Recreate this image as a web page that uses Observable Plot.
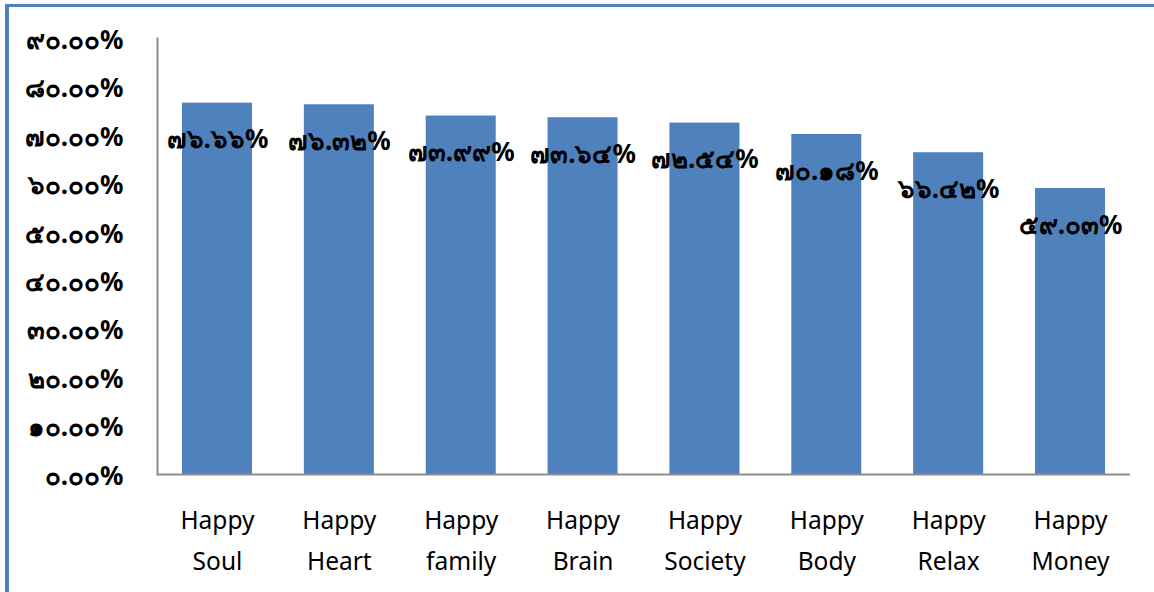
<!DOCTYPE html>
<html>
<head>
<meta charset="utf-8">
<script src="https://cdn.jsdelivr.net/npm/d3@7"></script>
<script src="https://cdn.jsdelivr.net/npm/@observablehq/plot@0.6"></script>
<style>
  html, body { margin: 0; padding: 0; background: #fff; overflow: hidden; }
  #frame {
    position: absolute; left: 5px; top: 4px; width: 1200px; height: 700px;
    border-left: 4px solid #4F81BD; border-top: 3px solid #4F81BD;
    box-sizing: border-box; pointer-events: none;
  }
  #chart { position: absolute; left: 0; top: 0; }
</style>
</head>
<body>
<div id="chart"></div>
<div id="frame"></div>
<script>
// Share of respondents by "Happy" dimension
const categories = ["Happy Soul", "Happy Heart", "Happy family", "Happy Brain", "Happy Society", "Happy Body", "Happy Relax", "Happy Money"];
const values = [76.66, 76.32, 73.99, 73.64, 72.54, 70.18, 66.42, 59.03];
const yTicks = [0, 10, 20, 30, 40, 50, 60, 70, 80, 90];

const data = categories.map((c, i) => ({category: c, value: values[i]}));

// Thai numerals for the percentage labels
const thaiDigits = "๐๑๒๓๔๕๖๗๘๙";
const toThai = s => s.replace(/[0-9]/g, d => thaiDigits[+d]);
const pct = v => toThai(v.toFixed(2) + "%");

const chart = Plot.plot({
  width: 1154,
  height: 592,
  marginLeft: 157,
  marginRight: 24,
  marginTop: 38,
  marginBottom: 118,
  style: {fontFamily: "'Noto Sans', sans-serif", background: "transparent"},
  x: {domain: categories, paddingInner: 0.4256, paddingOuter: 0.205, round: false, label: null},
  y: {domain: [0, 90], label: null},
  marks: [
    Plot.barY(data, {x: "category", y: "value", fill: "#4F81BD"}),
    Plot.ruleY([0], {stroke: "#8c8c8c", strokeWidth: 2}),
    Plot.frame({anchor: "left", stroke: "#8c8c8c", strokeWidth: 2}),
    Plot.axisY({
      ticks: yTicks, tickSize: 0, tickPadding: 34, tickFormat: pct, dy: 2,
      fontSize: 26, fontWeight: "bold", fill: "#000", label: null
    }),
    Plot.axisX({
      tickSize: 0, tickPadding: 25, fontSize: 24.5, fill: "#000",
      lineHeight: 1.68, tickFormat: d => d.replace(" ", "\n"), label: null
    }),
    Plot.text(data, {
      x: "category", y: "value", text: d => pct(d.value), dy: 37,
      fontSize: 26, fontWeight: "bold", fill: "#000"
    })
  ]
});
document.getElementById("chart").appendChild(chart);
</script>
</body>
</html>
